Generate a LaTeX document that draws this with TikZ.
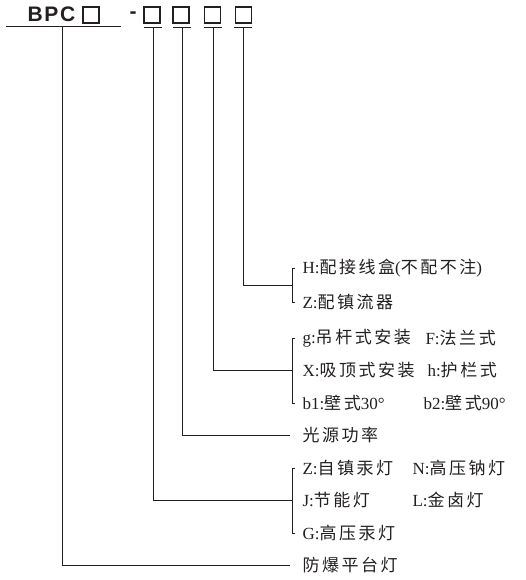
\documentclass[tikz,border=0pt]{standalone}
\usepackage{fontspec}
\setmainfont{Liberation Serif}
\newfontfamily\cjk[LetterSpace=15]{Noto Sans CJK SC}
\newfontfamily\bpcfont[LetterSpace=8,UprightFont=* Bold]{Liberation Sans}
\definecolor{inkgray}{HTML}{231F20}
\usetikzlibrary{calc}
\tikzset{
	codetext/.style={font=\fontsize{17}{20}\selectfont, anchor=west, inner sep=0pt}
}
\tikzset{
	codebox/.style={draw, line width=1.1pt, minimum width=16pt, minimum height=16pt, inner sep=0pt}
}
\begin{document}
\begin{tikzpicture}[x=1pt, y=-1pt, line width=1pt, color=inkgray]
      \useasboundingbox (0,0) rectangle (526,580);
      % model code
      \node[anchor=base west, inner sep=0pt, font=\fontsize{21}{23}\selectfont\bpcfont] (bpc) at (27,22) {BPC};
      \node[codebox] (b0) at (91,15) {};
      \node[inner sep=0pt, font=\fontsize{21}{23}\selectfont\bpcfont] (dash) at (133,15) {-};
      \foreach \n/\x in {1/152,2/181,3/212.5,4/243.5} {
        \node[codebox] (b\n) at (\x,15) {};
      }
      % underline and ticks
      \draw (6,27) -- (121,27);
      \coordinate (t0) at (62,27);
      \foreach \n/\x in {1/153,2/182,3/213,4/243} {
        \coordinate (t\n) at (\x,28);
        \draw ($(t\n)+(-9,0)$) -- ($(t\n)+(9,0)$);
      }
      % texts
      \node[codetext] (hH) at (302,268) {H:{\cjk 配接线盒}({\cjk 不配不注})};
      \node[codetext] (hZ) at (302,302) {Z:{\cjk 配镇流器}};
      \node[codetext] (mg) at (302,338) {g:{\cjk 吊杆式安装}};
      \node[codetext] (mF) at (425,338) {F:{\cjk 法兰式}};
      \node[codetext] (mX) at (302,370) {X:{\cjk 吸顶式安装}};
      \node[codetext] (mh) at (427,370) {h:{\cjk 护栏式}};
      \node[codetext] (mb1) at (302,403) {b1:{\cjk 壁式}30°};
      \node[codetext] (mb2) at (423,403) {b2:{\cjk 壁式}90°};
      \node[codetext] (pw) at (302,435) {\cjk 光源功率};
      \node[codetext] (lZ) at (302,468) {Z:{\cjk 自镇汞灯}};
      \node[codetext] (lN) at (412,468) {N:{\cjk 高压钠灯}};
      \node[codetext] (lJ) at (302,500) {J:{\cjk 节能灯}};
      \node[codetext] (lL) at (412,500) {L:{\cjk 金卤灯}};
      \node[codetext] (lG) at (302,533) {G:{\cjk 高压汞灯}};
      \node[codetext] (fb) at (302,565) {\cjk 防爆平台灯};
      % brackets
      \draw ([xshift=-7]hH.west) -- ++(-3,0) |- ([xshift=-7]hZ.west);
      \draw ([xshift=-7]mg.west) -- ++(-3,0) |- ([xshift=-7]mb1.west);
      \draw ([xshift=-7]lZ.west) -- ++(-3,0) |- ([xshift=-7]lG.west);
      \coordinate (j4) at ($(hH.west)!0.5!(hZ.west)+(-10,0)$);
      \coordinate (j3) at ([xshift=-10]mX.west);
      \coordinate (j2) at ([xshift=-12]pw.west);
      \coordinate (j1) at ([xshift=-10]lJ.west);
      \coordinate (j0) at ([xshift=-12]fb.west);
      % leader lines
      \foreach \n in {0,...,4} {
        \draw (t\n) |- (j\n);
      }
    \end{tikzpicture}
\end{document}
